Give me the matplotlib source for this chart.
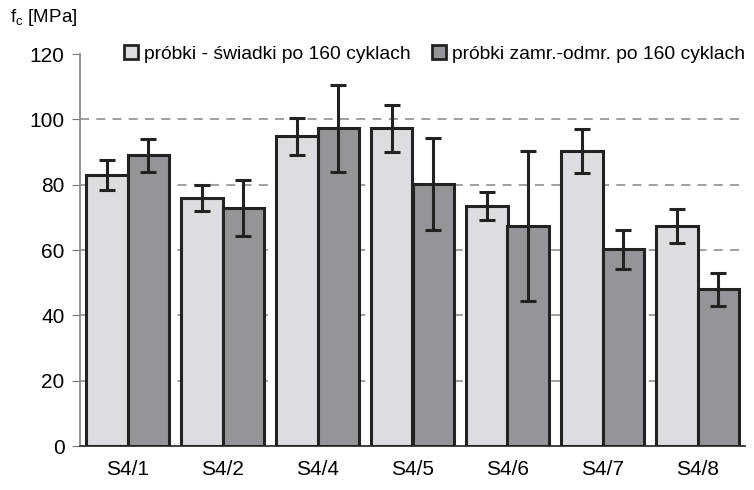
import numpy as np
import matplotlib.pyplot as plt
from matplotlib.patches import Patch

plt.rcParams['font.family'] = ['Liberation Sans', 'DejaVu Sans']

categories = ['S4/1', 'S4/2', 'S4/4', 'S4/5', 'S4/6', 'S4/7', 'S4/8']
swiadki = [83.0, 75.8, 94.8, 97.2, 73.4, 90.2, 67.3]
swiadki_err = [4.7, 4.0, 5.6, 7.2, 4.3, 6.7, 5.2]
zamr = [89.0, 72.8, 97.2, 80.2, 67.3, 60.2, 48.0]
zamr_err = [5.0, 8.5, 13.4, 14.0, 23.0, 6.0, 5.0]
labels = ['próbki - świadki po 160 cyklach', 'próbki zamr.-odmr. po 160 cyklach']

light = '#dcdde0'
dark = '#939599'
edge = '#222222'

fig = plt.figure(figsize=(7.54, 4.90), dpi=100)
ax = fig.add_axes([80 / 754, 44 / 490, 665 / 754, 392 / 490])

x = np.arange(len(categories))
w = 0.44
ekw = dict(ecolor=edge, elinewidth=2.2, capsize=6, capthick=2.2)
ax.bar(x - w / 2, swiadki, w, color=light, edgecolor=edge, linewidth=2.2,
       yerr=swiadki_err, error_kw=ekw, zorder=3)
ax.bar(x + w / 2, zamr, w, color=dark, edgecolor=edge, linewidth=2.2,
       yerr=zamr_err, error_kw=ekw, zorder=3)

ax.set_xlim(-0.5, len(categories) - 0.5)
ax.set_ylim(0, 120)
ax.set_yticks(np.arange(0, 121, 20))
ax.set_xticks(x)
ax.set_xticklabels(categories)
# dashed gridlines (none at the top, where the legend sits)
ax.hlines(np.arange(20, 101, 20), -0.5, len(categories) - 0.5,
          linestyles=(0, (5, 4)), colors='#999999', linewidth=1.3, zorder=0)

for s in ['top', 'right']:
    ax.spines[s].set_visible(False)
ax.spines['left'].set_color('#8a8a8a')
ax.spines['left'].set_linewidth(1.3)
ax.spines['bottom'].set_color('#333333')
ax.spines['bottom'].set_linewidth(1.3)
ax.tick_params(axis='y', length=6, color='#777777', labelsize=15, pad=5)
ax.tick_params(axis='x', length=0, labelsize=15, pad=10)

handles = [Patch(facecolor=light, edgecolor=edge, linewidth=2),
           Patch(facecolor=dark, edgecolor=edge, linewidth=2)]
leg = ax.legend(handles, labels, ncol=2, frameon=False, fontsize=13.9,
                loc='center right', bbox_to_anchor=(1.012, 1.0), handlelength=0.75,
                handleheight=0.75, handletextpad=0.3, columnspacing=1.1,
                borderaxespad=0)
leg.set_zorder(5)

fig.text(10 / 754, 1 - 18 / 490, 'f$_\\mathregular{c}$ [MPa]', fontsize=13.5, va='center')

fig.savefig('out.png', dpi=100)
